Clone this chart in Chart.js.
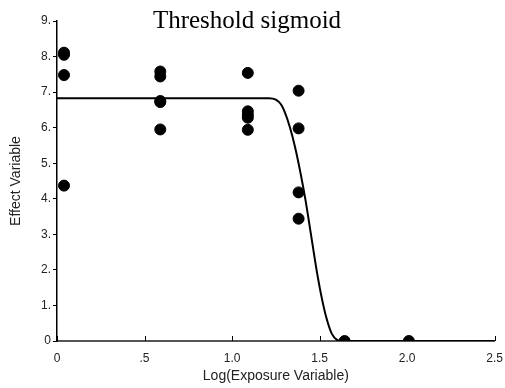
<!DOCTYPE html>
<html>
<head>
<meta charset="utf-8">
<script src="https://cdn.jsdelivr.net/npm/chart.js@4"></script>
<style>
  html, body { margin: 0; padding: 0; background: #fff; }
  #wrap { width: 505px; height: 388px; }
</style>
</head>
<body>
<div id="wrap"><canvas id="chart"></canvas></div>
<script>
// observed points (log exposure, effect)
const obsX = [0.04, 0.04, 0.04, 0.04,
              0.59, 0.59, 0.59, 0.59, 0.59,
              1.09, 1.09, 1.09, 1.09, 1.09,
              1.38, 1.38, 1.38, 1.38,
              1.643, 2.01];
const obsY = [8.11, 8.05, 7.48, 4.37,
              7.58, 7.44, 6.75, 6.72, 5.95,
              7.54, 6.46, 6.36, 6.28, 5.94,
              7.04, 5.98, 4.18, 3.44,
              0, 0];

// fitted threshold sigmoid
const fitX = [0, 1.21, 1.25, 1.28, 1.30, 1.33, 1.36, 1.39, 1.42, 1.45, 1.48, 1.51, 1.54, 1.57, 1.60, 1.62, 2.5];
const fitY = [6.83, 6.83, 6.79, 6.65, 6.45, 6.02, 5.45, 4.75, 3.95, 3.02, 2.08, 1.27, 0.63, 0.2, 0.03, 0, 0];

const xTicks = [0, 0.5, 1.0, 1.5, 2.0, 2.5];
const yTicks = [0, 1, 2, 3, 4, 5, 6, 7, 8, 9];

const font = "'Liberation Sans Narrow', 'Liberation Sans', Arial, sans-serif";

const titleAndTicks = {
  id: "titleAndTicks",
  afterDraw(chart) {
    const ctx = chart.ctx;
    const xs = chart.scales.x, ys = chart.scales.y;
    ctx.save();
    ctx.strokeStyle = "#000";
    ctx.lineWidth = 1;
    xTicks.forEach(function (v) {
      const px = Math.round(xs.getPixelForValue(v)) + 0.5;
      ctx.beginPath();
      ctx.moveTo(px, ys.bottom);
      ctx.lineTo(px, ys.bottom - 5);
      ctx.stroke();
    });
    ctx.fillStyle = "#000";
    ctx.font = "25px 'Liberation Serif', 'Times New Roman', serif";
    ctx.textAlign = "center";
    ctx.textBaseline = "alphabetic";
    ctx.fillText("Threshold sigmoid", 247, 28);
    ctx.restore();
  },
};

new Chart(document.getElementById("chart"), {
  type: "scatter",
  plugins: [titleAndTicks],
  data: {
    datasets: [
      {
        type: "line",
        data: fitX.map(function (x, i) { return { x: x, y: fitY[i] }; }),
        borderColor: "#000",
        borderWidth: 2,
        pointRadius: 0,
        cubicInterpolationMode: "monotone",
        fill: false,
        order: 2,
      },
      {
        data: obsX.map(function (x, i) { return { x: x, y: obsY[i] }; }),
        backgroundColor: "#000",
        borderColor: "#000",
        pointRadius: 5.5,
        order: 1,
      },
    ],
  },
  options: {
    responsive: true,
    maintainAspectRatio: false,
    animation: false,
    layout: { padding: { top: 21, right: 4, left: 0, bottom: 0 } },
    plugins: { legend: { display: false }, tooltip: { enabled: false } },
    scales: {
      x: {
        type: "linear",
        min: 0,
        max: 2.5,
        afterBuildTicks: function (s) { s.ticks = xTicks.map(function (v) { return { value: v }; }); },
        afterFit: function (s) { s.height = 47; },
        border: { color: "#555", width: 2 },
        grid: { display: false },
        ticks: {
          color: "#222",
          font: { family: font, size: 12 },
          padding: 2,
          callback: function (v) { return v === 0 ? "0" : v === 0.5 ? ".5" : v.toFixed(1); },
        },
        title: {
          display: true,
          text: "Log(Exposure Variable)",
          color: "#222",
          font: { family: font, size: 14 },
          padding: { top: 0, bottom: 3 },
        },
      },
      y: {
        type: "linear",
        min: 0,
        max: 9,
        afterBuildTicks: function (s) { s.ticks = yTicks.map(function (v) { return { value: v }; }); },
        afterFit: function (s) { s.width = 57; },
        border: { color: "#000", width: 1.5 },
        grid: { drawOnChartArea: false, drawTicks: true, tickLength: 4, color: "#000" },
        ticks: {
          color: "#222",
          font: { family: font, size: 12 },
          padding: 2,
          callback: function (v) { return v === 0 ? "0" : v + "."; },
        },
        title: {
          display: true,
          text: "Effect Variable",
          color: "#222",
          font: { family: font, size: 14 },
          padding: { top: 8, bottom: 0 },
        },
      },
    },
  },
});
</script>
</body>
</html>
